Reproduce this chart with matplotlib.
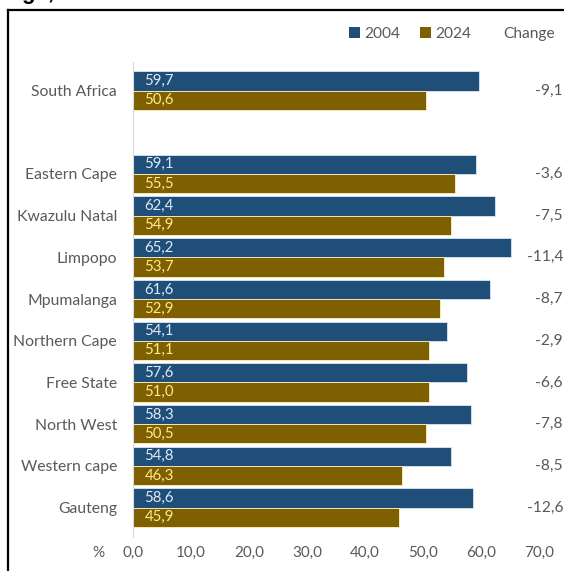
import matplotlib
matplotlib.use("Agg")
import matplotlib.pyplot as plt
from matplotlib.patches import Patch
from matplotlib.lines import Line2D

# Data: share (%) by region, 2004 vs 2024
regions = ["South Africa", "", "Eastern Cape", "Kwazulu Natal", "Limpopo",
           "Mpumalanga", "Northern Cape", "Free State", "North West",
           "Western cape", "Gauteng"]
values_2004 = [59.7, None, 59.1, 62.4, 65.2, 61.6, 54.1, 57.6, 58.3, 54.8, 58.6]
values_2024 = [50.6, None, 55.5, 54.9, 53.7, 52.9, 51.1, 51.0, 50.5, 46.3, 45.9]
changes = ["-9,1", None, "-3,6", "-7,5", "-11,4", "-8,7", "-2,9", "-6,6",
           "-7,8", "-8,5", "-12,6"]
x_ticks = [0, 10, 20, 30, 40, 50, 60, 70]

C2004 = "#1f4e79"
C2024 = "#7f6000"
GREY = "#595959"
FONT = "Lato"

W, H = 564, 571
fig = plt.figure(figsize=(W / 100, H / 100), dpi=100)
fig.patch.set_facecolor("white")

def fx(px):
    return px / W

def fy(py):
    return 1 - py / H

# axes placed in pixel terms: x 133..539 -> 0..70
ax_left, ax_right = 133, 539
ax_top, ax_bot = 62, 537
ax = fig.add_axes([fx(ax_left), fy(ax_bot), fx(ax_right - ax_left), (ax_bot - ax_top) / H])

slot_px = 41.7
first_center = 90.5
y_top = (ax_top - first_center) / slot_px
y_bot = (ax_bot - first_center) / slot_px
ax.set_ylim(y_bot, y_top)
ax.set_xlim(0, 70)

bar_h = 19.2 / slot_px
off = bar_h / 2
for i, (a, b) in enumerate(zip(values_2004, values_2024)):
    if a is None:
        continue
    ax.barh(i - off, a, height=bar_h, color=C2004, edgecolor="#dbe7f3", linewidth=0.6)
    ax.barh(i + off, b, height=bar_h, color=C2024, edgecolor="#fff3c4", linewidth=0.6)
    ax.text(2.0, i - off, f"{a:.1f}".replace(".", ","), color="#dde9f6",
            fontsize=10.8, family=FONT, va="center", ha="left")
    ax.text(2.0, i + off, f"{b:.1f}".replace(".", ","), color="#ffe98a",
            fontsize=10.8, family=FONT, va="center", ha="left")

# y labels
idx = [i for i, r in enumerate(regions) if r]
ax.set_yticks(idx)
ax.set_yticklabels([regions[i] for i in idx], family=FONT, fontsize=11.3, color=GREY)
ax.tick_params(axis="y", length=0, pad=11.5)

# x ticks
ax.set_xticks(x_ticks)
ax.set_xticklabels([f"{t:.1f}".replace(".", ",") for t in x_ticks],
                   family=FONT, fontsize=10.9, color=GREY)
ax.tick_params(axis="x", length=0, pad=6.5)

for s in ["top", "right", "bottom"]:
    ax.spines[s].set_visible(False)
ax.spines["left"].set_color("#d9d9d9")
ax.spines["left"].set_linewidth(0.8)

# change column
for i, c in enumerate(changes):
    if c is None:
        continue
    y_px = first_center + i * slot_px
    fig.text(fx(563), fy(y_px), c, ha="right", va="center",
             family=FONT, fontsize=11.2, color=GREY)

fig.text(fx(98), fy(553), "%", ha="center", va="center",
         family=FONT, fontsize=11, color=GREY)

# legend
handles = [Patch(facecolor=C2004, edgecolor="none"), Patch(facecolor=C2024, edgecolor="none")]
leg = fig.legend(handles, ["2004", "2024"], ncol=2, frameon=False,
                 loc="center right", bbox_to_anchor=(fx(477), fy(34)),
                 handlelength=0.7, handleheight=0.7, handletextpad=0.25,
                 columnspacing=1.3, borderaxespad=0,
                 prop={"family": FONT, "size": 11.2})
for t in leg.get_texts():
    t.set_color(GREY)
fig.text(fx(529), fy(34), "Change", ha="center", va="center",
         family=FONT, fontsize=11.2, color=GREY)

# outer frame (left and top edges)
fig.add_artist(Line2D([fx(7.5), fx(7.5)], [fy(10), fy(575)], color="black", lw=1.6,
                      transform=fig.transFigure))
fig.add_artist(Line2D([fx(7.5), fx(570)], [fy(10), fy(10)], color="black", lw=1.6,
                      transform=fig.transFigure))

# heading running above the frame
fig.text(fx(22), fy(-1.5), "ge, 2004 and 2024", ha="left", va="baseline",
         family="Liberation Sans", fontweight="bold", fontsize=16, color="black")

fig.savefig("out.png", dpi=100, facecolor="white")
